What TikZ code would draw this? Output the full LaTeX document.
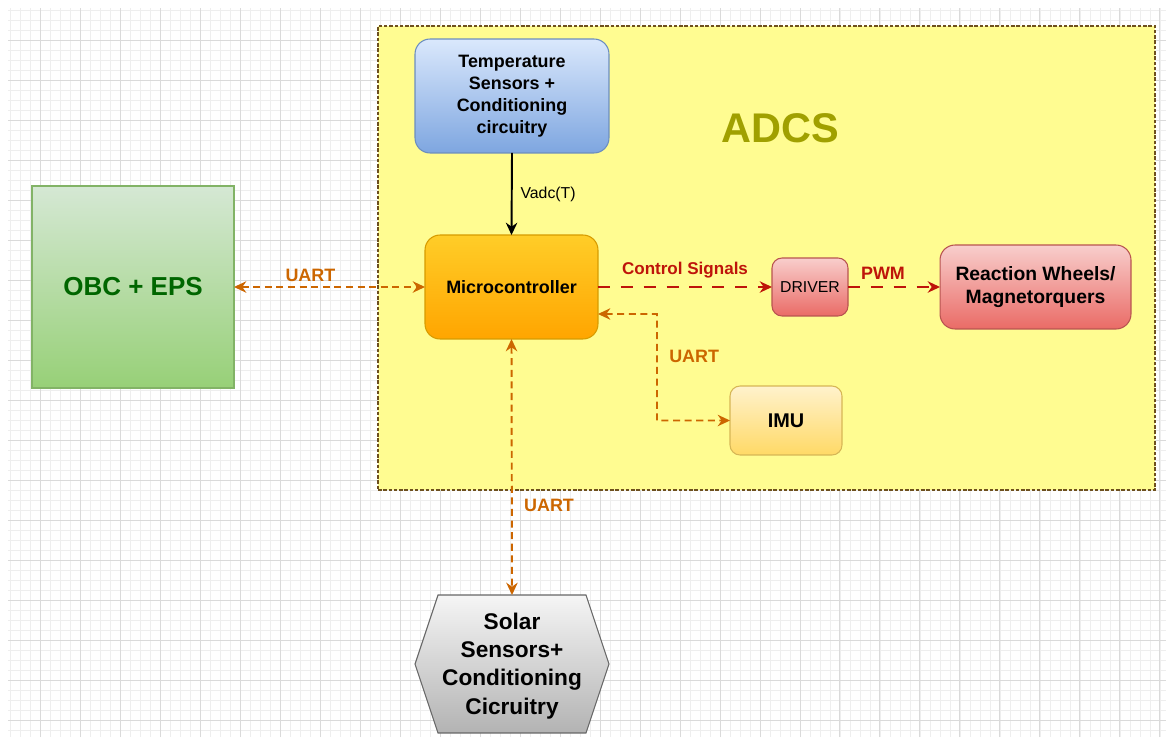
\documentclass[tikz,border=0pt]{standalone}
\usepackage{fontspec}
\setmainfont{Liberation Sans}
\usetikzlibrary{arrows.meta, positioning, calc}

\definecolor{gridminor}{RGB}{238,238,238}
\definecolor{gridmajor}{RGB}{218,218,218}
\definecolor{adcsfill}{RGB}{255,252,145}
\definecolor{adcsline}{RGB}{110,80,30}
\definecolor{adcstext}{RGB}{160,160,0}
\definecolor{uartc}{RGB}{204,102,0}
\definecolor{ctrlc}{RGB}{190,20,10}
\definecolor{obctext}{RGB}{0,102,0}

\begin{document}
\begin{tikzpicture}[x=0.02cm, y=-0.02cm, >={Stealth[length=7pt, width=6.5pt]}]
    \tikzset{
        every node/.style={font=\bfseries\fontsize{10.2}{12.5}\selectfont, align=center, inner sep=0pt, outer sep=0pt},
        box/.style={draw, rounded corners=0.3cm, line width=0.6pt},
        uart/.style={draw=uartc, line width=1.1pt, dash pattern=on 4pt off 2.6pt},
        uartlabel/.style={text=uartc, inner sep=3pt},
        ctrl/.style={draw=ctrlc, line width=1.1pt, dash pattern=on 7pt off 6pt}
    }

    % 1. 背景网格
    \useasboundingbox (0,0) rectangle (1166,737);
    \fill[white] (0,0) rectangle (1166,737);
    \draw[gridminor, line width=0.3pt, step=0.2cm] (8,737) grid (1166,8);
    \draw[gridmajor, line width=0.4pt, step=0.8cm] (8,737) grid (1166,8);

    % 2. ADCS 区域
    \node (adcs) [minimum width=15.54cm, minimum height=9.28cm, fill=adcsfill,
        draw=adcsline, dash pattern=on 2pt off 1pt, line width=0.9pt] at (766.5,258) {};
    \node (adcslabel) [text=adcstext, font=\bfseries\fontsize{23.6}{28}\selectfont] at (780,128) {ADCS};

    % 3. 各模块
    \node (temp) [box, minimum width=3.88cm, minimum height=2.28cm,
        top color={rgb,255:red,218;green,232;blue,252}, bottom color={rgb,255:red,126;green,166;blue,224},
        draw={rgb,255:red,108;green,142;blue,191}] at (512,96)
        {Temperature\\Sensors +\\Conditioning\\circuitry};

    \node (micro) [box, minimum width=3.46cm, minimum height=2.08cm,
        top color={rgb,255:red,255;green,205;blue,40}, bottom color={rgb,255:red,255;green,165;blue,0},
        draw={rgb,255:red,215;green,155;blue,0}] at (511.5,287) {Microcontroller};

    \node (obc) [draw, line width=0.6pt, minimum width=4.04cm, minimum height=4.04cm,
        top color={rgb,255:red,213;green,232;blue,212}, bottom color={rgb,255:red,151;green,208;blue,119},
        draw={rgb,255:red,130;green,179;blue,102}, text=obctext,
        font=\bfseries\fontsize{14.8}{18}\selectfont] at (133,287) {OBC + EPS};

    \node (driver) [box, rounded corners=0.2cm, minimum width=1.52cm, minimum height=1.16cm,
        top color={rgb,255:red,248;green,206;blue,204}, bottom color={rgb,255:red,234;green,107;blue,102},
        draw={rgb,255:red,184;green,84;blue,80}, font=\fontsize{9}{11}\selectfont] at (810,287) {DRIVER};

    \node (rw) [box, minimum width=3.82cm, minimum height=1.68cm,
        top color={rgb,255:red,248;green,206;blue,204}, bottom color={rgb,255:red,234;green,107;blue,102},
        draw={rgb,255:red,184;green,84;blue,80}, font=\bfseries\fontsize{11}{13}\selectfont] at (1035.5,287)
        {Reaction Wheels/\\Magnetorquers};

    \node (imu) [box, rounded corners=0.2cm, minimum width=2.24cm, minimum height=1.38cm,
        top color={rgb,255:red,255;green,242;blue,204}, bottom color={rgb,255:red,255;green,217;blue,102},
        draw={rgb,255:red,214;green,182;blue,86}, font=\bfseries\fontsize{11.3}{13}\selectfont] at (786,420.5) {IMU};

    % 六边形 (太阳传感器)
    \node (solar) [minimum width=3.88cm, minimum height=2.76cm] at (512,664) {};
    \shadedraw[top color={rgb,255:red,245;green,245;blue,245}, bottom color={rgb,255:red,179;green,179;blue,179},
        draw={rgb,255:red,102;green,102;blue,102}, line width=0.6pt]
        (solar.west) -- ([xshift=0.46cm]solar.north west) -- ([xshift=-0.46cm]solar.north east)
        -- (solar.east) -- ([xshift=-0.46cm]solar.south east) -- ([xshift=0.46cm]solar.south west) -- cycle;
    \node (solartext) [font=\bfseries\fontsize{12.9}{16}\selectfont] at ([yshift=-0.04cm]solar.center)
        {Solar\\Sensors+\\Conditioning\\Cicruitry};

    % 4. 连线
    \draw[line width=1.1pt, ->] (temp.south) -- (micro.north)
        node[midway, right=5pt, font=\fontsize{9}{11}\selectfont] {Vadc(T)};

    \draw[uart, <->] (obc.east) -- (micro.west) node[pos=0.4, above, uartlabel] {UART};

    \draw[ctrl, ->] (micro.east) -- (driver.west)
        node[midway, above, inner sep=5pt, text=ctrlc, font=\bfseries\fontsize{9.7}{12}\selectfont] {Control Signals};

    \draw[ctrl, ->] (driver.east) -- (rw.west)
        node[pos=0.38, above, inner sep=4pt, text=ctrlc] {PWM};

    \coordinate (bend) at (657,314);
    \draw[uart, <->] ([yshift=-0.54cm]micro.east) -- (bend) |- (imu.west)
        node[pos=0.2, right, inner sep=7pt, text=uartc] {UART};

    \draw[uart, <->] (micro.south) -- (solar.north) node[pos=0.65, right, uartlabel, inner sep=7pt] {UART};

\end{tikzpicture}
\end{document}
